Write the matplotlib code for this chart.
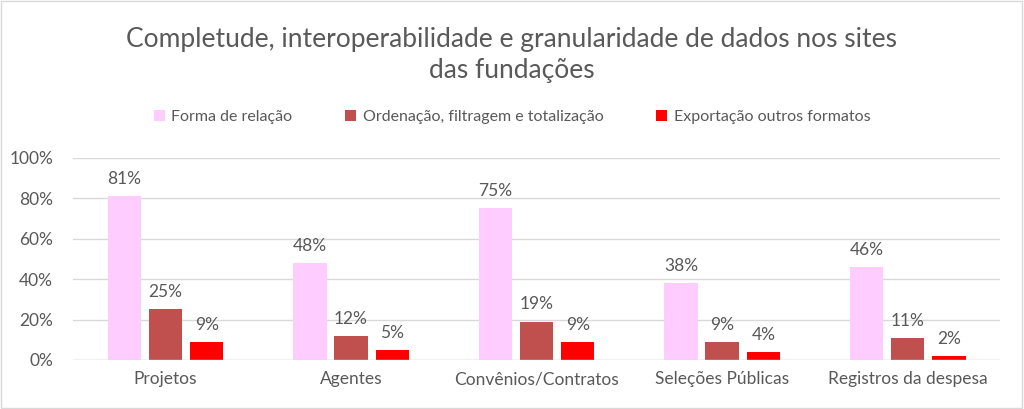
import matplotlib
matplotlib.use("Agg")
import matplotlib.pyplot as plt
import numpy as np

plt.rcParams['font.family'] = ['Lato', 'DejaVu Sans']

categories = ["Projetos", "Agentes", "Convênios/Contratos", "Seleções Públicas", "Registros da despesa"]
series_names = ["Forma de relação", "Ordenação, filtragem e totalização", "Exportação outros formatos"]
forma = [81, 48, 75, 38, 46]
ordenacao = [25, 12, 19, 9, 11]
exportacao = [9, 5, 9, 4, 2]
colors = ["#FFCCFF", "#C0504D", "#FF0000"]
yticks = [0, 20, 40, 60, 80, 100]

fig = plt.figure(figsize=(10.24, 4.09), dpi=100)
ax = fig.add_axes([0.071, 0.12, 0.906, 0.494])

x = np.arange(len(categories))
w = 0.18
step = 0.222
text_color = "#595959"
for i, (vals, c, name) in enumerate(zip([forma, ordenacao, exportacao], colors, series_names)):
    pos = x + (i - 1) * step
    ax.bar(pos, vals, width=w, color=c, label=name, zorder=3)
    for p, v in zip(pos, vals):
        ax.text(p, v + 4.5, f"{v}%", ha="center", va="bottom", fontsize=12.5, color=text_color)

ax.set_xlim(-0.5, len(categories) - 0.5)
ax.set_ylim(0, 100)
ax.set_yticks(yticks)
ax.set_yticklabels([f"{t}%" for t in yticks])
ax.set_xticks(x)
ax.set_xticklabels(categories)
ax.tick_params(axis="both", length=0, labelsize=12.5, colors=text_color, pad=8)
ax.tick_params(axis="y", pad=14)
ax.yaxis.grid(True, color="#D9D9D9", linewidth=1, zorder=0)
for s in ax.spines.values():
    s.set_visible(False)
ax.axhline(0, color="#D9D9D9", linewidth=1, zorder=4)

fig.text(0.5, 0.865, "Completude, interoperabilidade e granularidade de dados nos sites\ndas fundações",
         ha="center", va="center", fontsize=19, color=text_color, linespacing=1.3)

fig.legend(loc="center", bbox_to_anchor=(0.5, 0.713), ncol=3, frameon=False, fontsize=11.5,
           handlelength=0.7, handleheight=0.7, columnspacing=3.3, handletextpad=0.4,
           labelcolor=text_color)

fig.patches.append(plt.Rectangle((0.001, 0.002), 0.997, 0.995, transform=fig.transFigure,
                                 fill=False, edgecolor="#D9D9D9", linewidth=1))
fig.savefig("out.png", dpi=100)
